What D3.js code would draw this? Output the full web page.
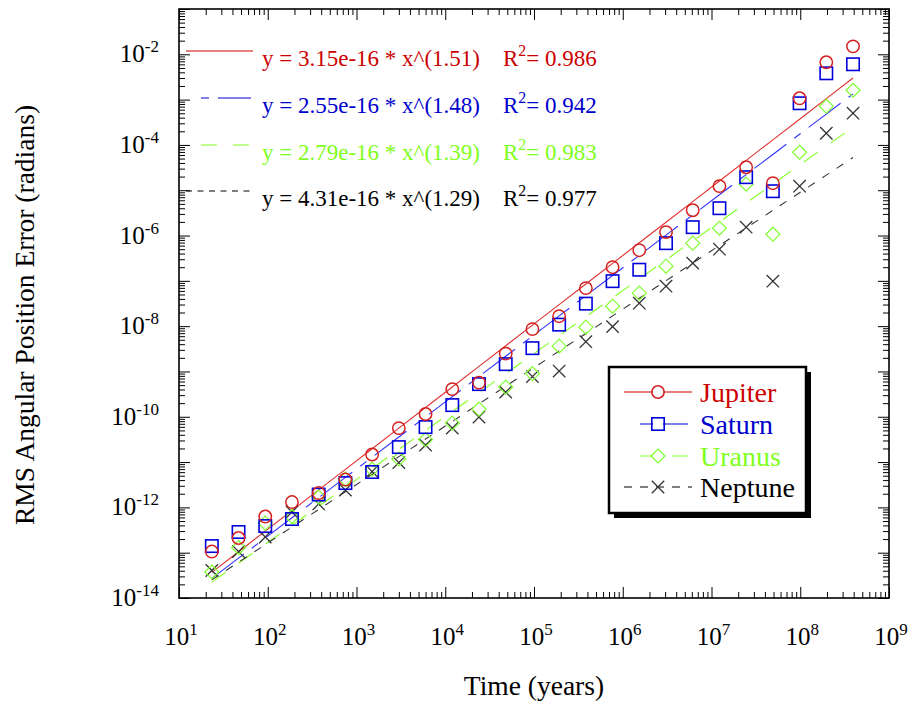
<!DOCTYPE html>
<html>
<head>
<meta charset="utf-8">
<script src="https://cdn.jsdelivr.net/npm/d3@7"></script>
<style>
  html, body { margin: 0; padding: 0; background: #fff; }
  svg text { font-family: "Liberation Serif", "Times New Roman", Times, serif; }
</style>
</head>
<body>
<svg id="chart" width="910" height="702"></svg>
<script>
// ---- data ----------------------------------------------------------------
const years = [23.4375, 46.875, 93.75, 187.5, 375, 750, 1500, 3000, 6000, 12000,
  24000, 48000, 96000, 192000, 384000, 768000, 1536000, 3072000, 6144000,
  12288000, 24576000, 49152000, 98304000, 196608000, 393216000];

const jupiter = [1.06e-13, 2.11e-13, 6.28e-13, 1.31e-12, 2.07e-12, 4.11e-12, 1.47e-11,
  5.62e-11, 1.15e-10, 4.08e-10, 5.68e-10, 2.48e-9, 8.59e-9, 1.66e-8, 6.90e-8, 2.00e-7,
  4.75e-7, 1.19e-6, 3.62e-6, 1.23e-5, 3.22e-5, 1.43e-5, 1.07e-3, 6.67e-3, 1.50e-2];

const saturn = [1.40e-13, 2.86e-13, 3.87e-13, 5.53e-13, 1.92e-12, 3.44e-12, 6.03e-12,
  2.14e-11, 5.92e-11, 1.81e-10, 5.26e-10, 1.45e-9, 3.27e-9, 1.08e-8, 3.14e-8, 9.84e-8,
  1.76e-7, 6.78e-7, 1.53e-6, 4.01e-6, 1.94e-5, 9.51e-6, 8.31e-4, 3.81e-3, 6.03e-3];

const uranus = [3.75e-14, 1.30e-13, 4.51e-13, 6.28e-13, 1.69e-12, 4.22e-12, 7.01e-12,
  1.17e-11, 3.14e-11, 7.25e-11, 1.48e-10, 4.52e-10, 8.96e-10, 3.62e-9, 9.51e-9, 2.76e-8,
  5.35e-8, 2.11e-7, 6.78e-7, 1.45e-6, 1.36e-5, 1.07e-6, 6.90e-5, 7.14e-4, 1.61e-3];

const neptune = [4.04e-14, 1.06e-13, 2.22e-13, 7.89e-13, 1.19e-12, 2.41e-12, 6.17e-12,
  9.75e-12, 2.37e-11, 5.62e-11, 9.84e-11, 3.50e-10, 7.70e-10, 1.02e-9, 4.55e-9, 9.76e-9,
  3.22e-8, 7.64e-8, 2.46e-7, 5.00e-7, 1.53e-6, 9.84e-8, 1.23e-5, 1.81e-4, 5.01e-4];

const planetNames = ["Jupiter", "Saturn", "Uranus", "Neptune"];
const fitCoef = [3.15e-16, 2.55e-16, 2.79e-16, 4.31e-16];
const fitExp = [1.51, 1.48, 1.39, 1.29];
const fitR2 = [0.986, 0.942, 0.983, 0.977];

const xTickExps = [1, 2, 3, 4, 5, 6, 7, 8, 9];
const yTickExps = [-14, -12, -10, -8, -6, -4, -2];

const xTitle = "Time (years)";
const yTitle = "RMS Angular Position Error (radians)";

// ---- styling --------------------------------------------------------------
const SERIF = "Liberation Serif, Times New Roman, Times, serif";
const seriesValues = [jupiter, saturn, uranus, neptune];
const markerColor = ["#d42020", "#0000dd", "#80ff30", "#333333"];
const textColor   = ["#cc0000", "#0000cc", "#80ff20", "#000000"];
const fitColor    = ["#e03030", "#3030ff", "#80ff20", "#333333"];
const fitDash     = [null, "40,10,8,10", "17,16", "8,9"];
const markerShape = ["circle", "square", "diamond", "cross"];

const plot = { left: 179, right: 889, top: 9, bottom: 598 };

const svg = d3.select("#chart");

const x = d3.scaleLog().domain([1e1, 1e9]).range([plot.left, plot.right]);
const y = d3.scaleLog().domain([1e-14, 1e-1]).range([plot.bottom, plot.top]);

const pow10 = e => +("1e" + e);

function addText(parent, size) {
  return parent.append("text").attr("font-family", SERIF).attr("font-size", size);
}

// ---- axes (ticks point inward on all four sides) --------------------------
const xMajor = d3.range(1, 10).map(pow10);
const xMinor = [];
d3.range(1, 9).forEach(e => d3.range(2, 10).forEach(m => xMinor.push(m * pow10(e))));
const yMajor = d3.range(-14, 0).map(pow10);
const yMinor = [];
d3.range(-14, -1).forEach(e => d3.range(2, 10).forEach(m => yMinor.push(m * pow10(e))));

function tickGroup(axis, values, size, tx, ty) {
  svg.append("g")
    .attr("transform", `translate(${tx},${ty})`)
    .call(axis.tickValues(values).tickSize(size).tickFormat(() => ""))
    .call(g => g.select(".domain").remove())
    .call(g => g.selectAll(".tick line").attr("stroke", "#000").attr("stroke-width", 1));
}
tickGroup(d3.axisBottom(x), xMajor, -11, 0, plot.bottom);
tickGroup(d3.axisBottom(x), xMinor, -6, 0, plot.bottom);
tickGroup(d3.axisTop(x), xMajor, -11, 0, plot.top);
tickGroup(d3.axisTop(x), xMinor, -6, 0, plot.top);
tickGroup(d3.axisLeft(y), yMajor, -11, plot.left, 0);
tickGroup(d3.axisLeft(y), yMinor, -6, plot.left, 0);
tickGroup(d3.axisRight(y), yMajor, -11, plot.right, 0);
tickGroup(d3.axisRight(y), yMinor, -6, plot.right, 0);

svg.append("rect")
  .attr("x", plot.left).attr("y", plot.top)
  .attr("width", plot.right - plot.left).attr("height", plot.bottom - plot.top)
  .attr("fill", "none").attr("stroke", "#000").attr("stroke-width", 1.6);

// power-of-ten tick labels
function powerLabel(sel, exp) {
  sel.append("tspan").text("10");
  sel.append("tspan").attr("dy", -10).attr("font-size", 17).text(exp);
}
xTickExps.forEach(e => {
  const t = addText(svg, 25)
    .attr("x", x(pow10(e)) + 2).attr("y", 645)
    .attr("text-anchor", "middle").attr("fill", "#000");
  powerLabel(t, e);
});
yTickExps.forEach(e => {
  const t = addText(svg, 25)
    .attr("x", 159).attr("y", y(pow10(e)) + 8)
    .attr("text-anchor", "end").attr("fill", "#000");
  powerLabel(t, e);
});

// axis titles
addText(svg, 27.5)
  .attr("x", 534).attr("y", 695)
  .attr("text-anchor", "middle").text(xTitle);
addText(svg, 27.5)
  .attr("transform", "translate(34,315) rotate(-90)")
  .attr("text-anchor", "middle").text(yTitle);

// ---- power-law fits ------------------------------------------------------
const fitLine = i => d3.line()
  .x(d => x(d))
  .y(d => y(fitCoef[i] * Math.pow(d, fitExp[i])));

planetNames.forEach((p, i) => {
  svg.append("path")
    .datum(years)
    .attr("d", fitLine(i))
    .attr("fill", "none")
    .attr("stroke", fitColor[i])
    .attr("stroke-width", 1.1)
    .attr("stroke-dasharray", fitDash[i]);
});

// ---- markers ---------------------------------------------------------------
function marker(g, shape, cx, cy, color) {
  const r = 6.2;
  if (shape === "circle") {
    g.append("circle").attr("cx", cx).attr("cy", cy).attr("r", r)
      .attr("fill", "none").attr("stroke", color).attr("stroke-width", 1.5);
  } else if (shape === "square") {
    g.append("rect").attr("x", cx - r).attr("y", cy - r)
      .attr("width", 2 * r).attr("height", 2 * r)
      .attr("fill", "none").attr("stroke", color).attr("stroke-width", 1.6);
  } else if (shape === "diamond") {
    const d = r + 0.8;
    g.append("path")
      .attr("d", `M${cx},${cy - d}L${cx + d},${cy}L${cx},${cy + d}L${cx - d},${cy}Z`)
      .attr("fill", "none").attr("stroke", color).attr("stroke-width", 1.2);
  } else {
    g.append("path")
      .attr("d", `M${cx - r},${cy - r}L${cx + r},${cy + r}M${cx - r},${cy + r}L${cx + r},${cy - r}`)
      .attr("fill", "none").attr("stroke", color).attr("stroke-width", 1.3);
  }
}

const markerLayer = svg.append("g");
[3, 2, 1, 0].forEach(i => {
  const g = markerLayer.append("g");
  seriesValues[i].forEach((v, k) => marker(g, markerShape[i], x(years[k]), y(v), markerColor[i]));
});

// ---- fit equations (upper left) ------------------------------------------
const fmtCoef = d3.format(".2e");
const fmtExp = d3.format(".2f");
const fmtR2 = d3.format(".3f");
const eqLineY = [51, 98, 145, 191];
const eqSample = [
  { x1: 186, x2: 253, dash: null },
  { x1: 201, x2: 251, dash: "8,9,40,10" },
  { x1: 201, x2: 251, dash: "16,16" },
  { x1: 186, x2: 253, dash: "6,5.5" }
];
planetNames.forEach((p, i) => {
  const ly = eqLineY[i];
  svg.append("line")
    .attr("x1", eqSample[i].x1).attr("x2", eqSample[i].x2)
    .attr("y1", ly).attr("y2", ly)
    .attr("stroke", textColor[i]).attr("stroke-width", 1.2)
    .attr("stroke-dasharray", eqSample[i].dash);
  addText(svg, 23)
    .attr("x", 262).attr("y", ly + 15)
    .attr("fill", textColor[i])
    .text(`y = ${fmtCoef(fitCoef[i])} * x^(${fmtExp(fitExp[i])})`);
  const r2 = addText(svg, 23)
    .attr("x", 503).attr("y", ly + 15)
    .attr("fill", textColor[i]);
  r2.append("tspan").text("R");
  r2.append("tspan").attr("dy", -10).attr("font-size", 16).text("2");
  r2.append("tspan").attr("dy", 10).text(`= ${fmtR2(fitR2[i])}`);
});

// ---- legend box ------------------------------------------------------------
const box = { x: 609, y: 367, w: 197, h: 146 };
const legend = svg.append("g");
legend.append("rect")
  .attr("x", box.x + 5).attr("y", box.y + 5).attr("width", box.w).attr("height", box.h)
  .attr("fill", "#000");
legend.append("rect")
  .attr("x", box.x).attr("y", box.y).attr("width", box.w).attr("height", box.h)
  .attr("fill", "#fff").attr("stroke", "#000").attr("stroke-width", 2.5);

const legRowY = [392, 424, 456, 487];
const legSample = [
  { x1: 624, x2: 692, dash: null },
  { x1: 640, x2: 688, dash: null },
  { x1: 640, x2: 688, dash: "13,19,16" },
  { x1: 624, x2: 692, dash: "8,8" }
];
planetNames.forEach((p, i) => {
  const ry = legRowY[i];
  legend.append("line")
    .attr("x1", legSample[i].x1).attr("x2", legSample[i].x2)
    .attr("y1", ry).attr("y2", ry)
    .attr("stroke", textColor[i]).attr("stroke-width", 1.2)
    .attr("stroke-dasharray", legSample[i].dash);
  const mg = legend.append("g");
  if (markerShape[i] !== "cross") {
    // blank the line behind hollow markers
    mg.append("circle").attr("cx", 658).attr("cy", ry).attr("r", 5).attr("fill", "#fff");
  }
  marker(mg, markerShape[i], 658, ry, markerColor[i]);
  addText(legend, 28)
    .attr("x", 700).attr("y", ry + 10)
    .attr("fill", textColor[i])
    .text(p);
});
</script>
</body>
</html>
